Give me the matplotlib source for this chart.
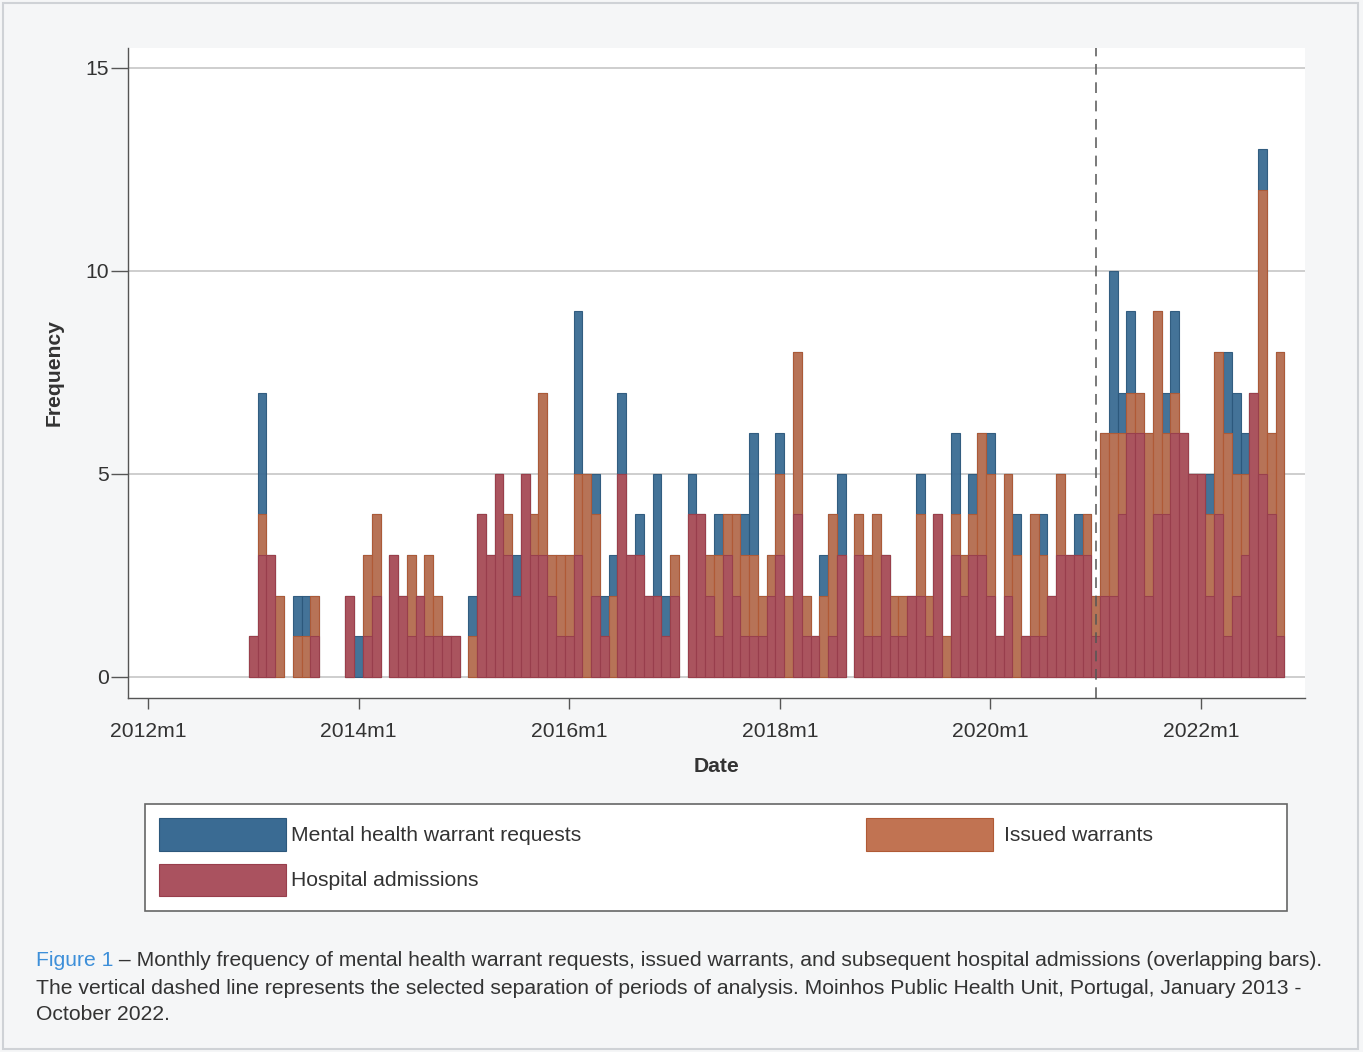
import numpy as np
import matplotlib
matplotlib.use("Agg")
import matplotlib.pyplot as plt
from matplotlib.patches import Rectangle

# ---------------- data (monthly, 2013m1 .. 2022m10) ----------------
start_month = 12  # months since 2012m1 -> 2013m1
requests = [1, 7, 3, 2, 0, 2, 2, 2, 0, 0, 0, 2, 1, 3, 4, 0, 3, 2, 3, 2, 3, 2, 1, 1,
            0, 2, 4, 3, 5, 4, 3, 5, 4, 7, 3, 3, 3, 9, 5, 5, 2, 3, 7, 3, 4, 2, 5, 2,
            3, 0, 5, 4, 3, 4, 4, 4, 4, 6, 2, 3, 6, 2, 8, 2, 1, 3, 4, 5, 0, 4, 3, 4,
            3, 2, 2, 2, 5, 2, 4, 1, 6, 3, 5, 6, 6, 1, 5, 4, 1, 4, 4, 2, 5, 3, 4, 4,
            2, 6, 10, 7, 9, 7, 6, 9, 7, 9, 6, 5, 5, 5, 8, 8, 7, 6, 7, 13, 6, 8]
issued = [1, 4, 3, 2, 0, 1, 1, 2, 0, 0, 0, 2, 0, 3, 4, 0, 3, 2, 3, 2, 3, 2, 1, 1,
          0, 1, 4, 3, 5, 4, 2, 5, 4, 7, 3, 3, 3, 5, 5, 4, 1, 2, 5, 3, 3, 2, 2, 1,
          3, 0, 4, 4, 3, 3, 4, 4, 3, 3, 2, 3, 5, 2, 8, 2, 1, 2, 4, 3, 0, 4, 3, 4,
          3, 2, 2, 2, 4, 2, 4, 1, 4, 3, 4, 6, 5, 1, 5, 3, 1, 4, 3, 2, 5, 3, 3, 4,
          2, 6, 6, 6, 7, 7, 6, 9, 6, 7, 6, 5, 5, 4, 8, 6, 5, 5, 7, 12, 6, 8]
admissions = [1, 3, 3, 0, 0, 0, 0, 1, 0, 0, 0, 2, 0, 1, 2, 0, 3, 2, 1, 2, 1, 1, 1, 1,
              0, 0, 4, 3, 5, 3, 2, 5, 3, 3, 2, 1, 1, 3, 0, 2, 1, 0, 5, 3, 3, 2, 2, 1,
              2, 0, 4, 4, 2, 1, 3, 2, 1, 1, 1, 2, 3, 0, 4, 1, 1, 0, 1, 3, 0, 3, 1, 1,
              3, 1, 1, 2, 2, 1, 4, 0, 3, 2, 3, 3, 2, 1, 2, 0, 1, 1, 1, 2, 3, 3, 3, 3,
              1, 2, 2, 4, 6, 6, 2, 4, 4, 6, 6, 5, 5, 2, 4, 1, 2, 3, 7, 5, 4, 1]
series_labels = ["Mental health warrant requests", "Issued warrants", "Hospital admissions"]
tick_months = [0, 24, 48, 72, 96, 120]
tick_labels = ["2012m1", "2014m1", "2016m1", "2018m1", "2020m1", "2022m1"]
cut_month = 108  # 2021m1
y_ticks = [0, 5, 10, 15]

# ---------------- style ----------------
BLUE, BLUE_E = "#3a6b93", "#2c587c"
ORANGE, ORANGE_E = "#c17352", "#b05a35"
RED, RED_E = "#aa525f", "#983e4c"
BG = "#f5f6f7"
TXT = "#333333"
FONT = ["Liberation Sans", "DejaVu Sans"]
plt.rcParams["font.family"] = FONT

W, H = 1363, 1052
fig = plt.figure(figsize=(W / 100, H / 100), dpi=100, facecolor=BG)

def fx(px):
    return px / W

def fy(py):
    return 1 - py / H

ax = fig.add_axes([fx(128), fy(698), fx(1305) - fx(128), fy(48) - fy(698)])
ax.set_facecolor("white")

months = np.arange(len(requests)) + start_month

def draw(vals, color, ec, alpha, z):
    v = np.asarray(vals, dtype=float)
    keep = v > 0
    ax.bar(months[keep], v[keep], width=1.0, color=color, edgecolor=ec,
           linewidth=0.8, alpha=alpha, zorder=z)

draw(requests, BLUE, BLUE_E, 0.95, 2)
draw(issued, ORANGE, ORANGE_E, 0.93, 3)
draw(admissions, RED, RED_E, 0.93, 4)

ax.axvline(cut_month, color="#555555", linestyle=(0, (7, 5)), linewidth=1.1, zorder=5)

ax.set_xlim(-2.28, 131.85)
ax.set_ylim(-0.52, 15.49)
ax.set_yticks(y_ticks)
ax.set_yticklabels([str(v) for v in y_ticks])
ax.set_xticks(tick_months)
ax.set_xticklabels(tick_labels)
ax.yaxis.grid(True, color="#c6c6c6", linewidth=1.2, zorder=0)
ax.set_axisbelow(True)
for s in ["top", "right"]:
    ax.spines[s].set_visible(False)
for s in ["left", "bottom"]:
    ax.spines[s].set_color("#555555")
    ax.spines[s].set_linewidth(1.0)
ax.tick_params(axis="x", length=8, width=1.0, color="#555555", pad=9,
               labelsize=15.2, labelcolor=TXT)
ax.tick_params(axis="y", length=12, width=1.0, color="#555555", pad=2,
               labelsize=15.2, labelcolor=TXT)
ax.set_xlabel("Date", fontsize=15.2, fontweight="bold", color=TXT, labelpad=12)
ax.set_ylabel("Frequency", fontsize=15.2, fontweight="bold", color=TXT, labelpad=15)

# ---------------- legend (manual box) ----------------
lx0, ly0, lx1, ly1 = 145, 804, 1287, 911
fig.patches.append(Rectangle((fx(lx0), fy(ly1)), fx(lx1) - fx(lx0), fy(ly0) - fy(ly1),
                             transform=fig.transFigure, facecolor="white",
                             edgecolor="#666666", linewidth=1.2))
entries = [(159, 818, 851, BLUE, BLUE_E, series_labels[0], 291),
           (866, 818, 851, ORANGE, ORANGE_E, series_labels[1], 1004),
           (159, 864, 896, RED, RED_E, series_labels[2], 291)]
for px0, py0, py1, c, ec, lab, tx in entries:
    fig.patches.append(Rectangle((fx(px0), fy(py1)), fx(px0 + 127) - fx(px0), fy(py0) - fy(py1),
                                 transform=fig.transFigure, facecolor=c, edgecolor=ec,
                                 linewidth=0.8))
    fig.text(fx(tx), fy((py0 + py1) / 2 + 1), lab, fontsize=15.2, color=TXT,
             ha="left", va="center")

# ---------------- caption ----------------
cap_size = 15.2
t1 = fig.text(fx(36), fy(961), "Figure 1", fontsize=cap_size, color="#3d8fd9",
              ha="left", va="center")
fig.canvas.draw()
r = fig.canvas.get_renderer()
bb = t1.get_window_extent(renderer=r)
fig.text(bb.x1 / W, fy(961),
         " \u2013 Monthly frequency of mental health warrant requests, issued warrants, and subsequent hospital admissions (overlapping bars).",
         fontsize=cap_size, color=TXT, ha="left", va="center")
fig.text(fx(36), fy(988),
         "The vertical dashed line represents the selected separation of periods of analysis. Moinhos Public Health Unit, Portugal, January 2013 -",
         fontsize=cap_size, color=TXT, ha="left", va="center")
fig.text(fx(36), fy(1014), "October 2022.", fontsize=cap_size, color=TXT,
         ha="left", va="center")

# outer border
fig.patches.append(Rectangle((fx(3), fy(1049)), fx(1358) - fx(3), fy(3) - fy(1049),
                             transform=fig.transFigure, facecolor="none",
                             edgecolor="#cfd2d6", linewidth=1.5))

fig.savefig("out.png", dpi=100, facecolor=BG)
